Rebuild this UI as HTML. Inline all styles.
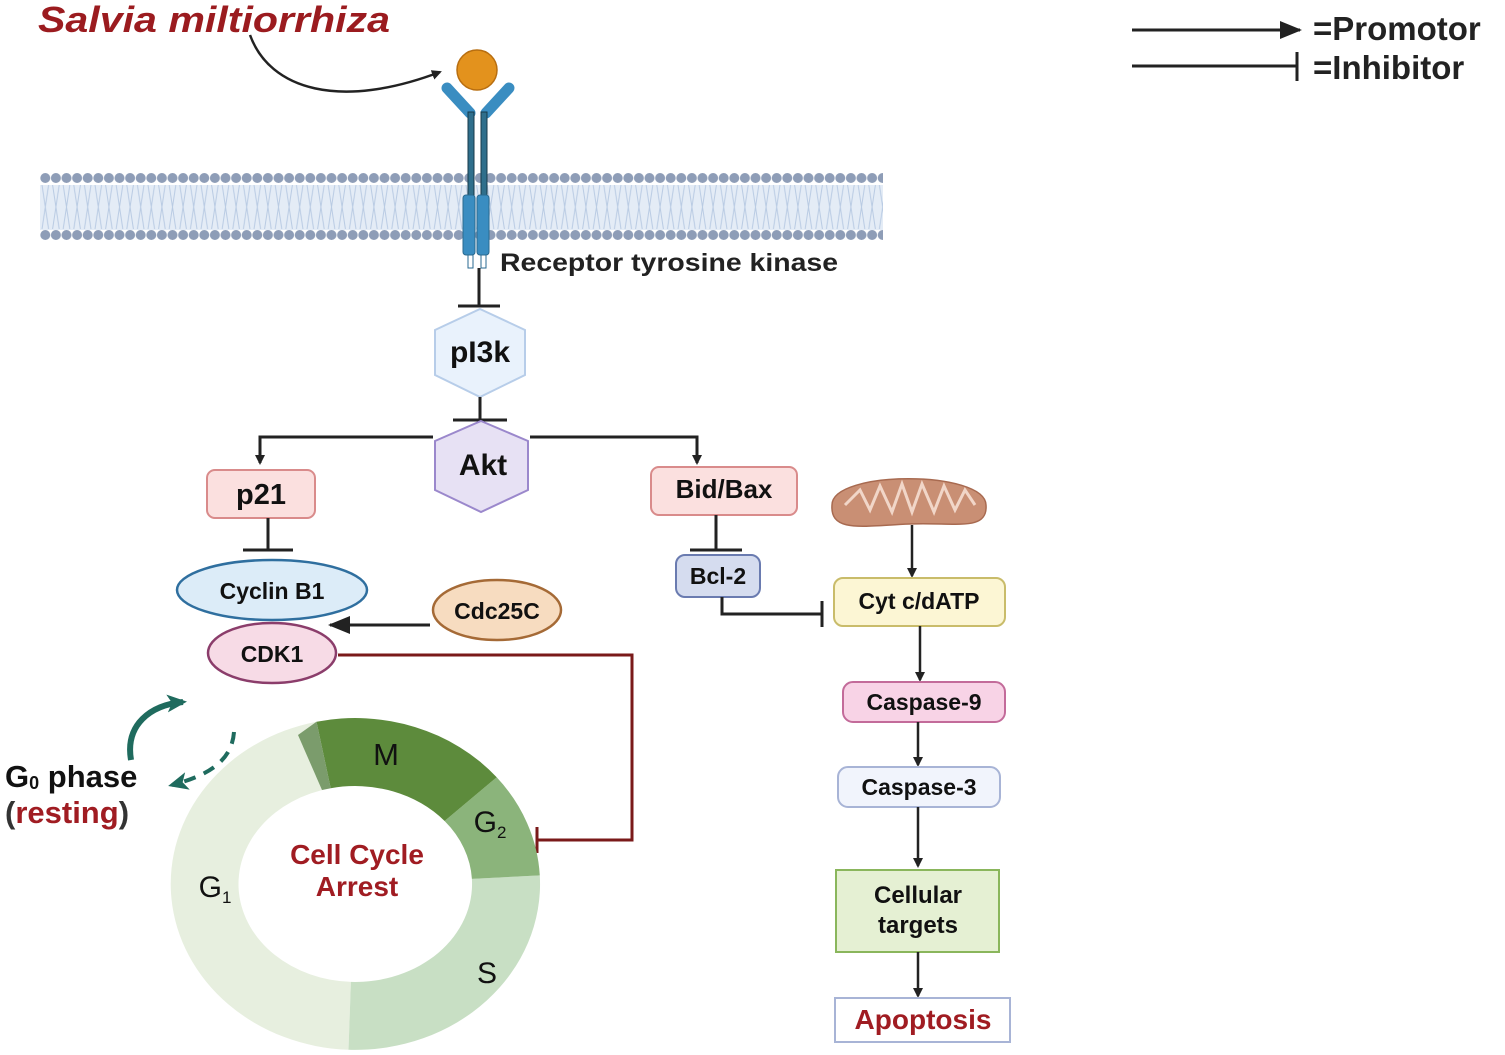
<!DOCTYPE html>
<html><head><meta charset="utf-8"><style>
html,body{margin:0;padding:0;background:#fff;}
svg{display:block;font-family:"Liberation Sans",sans-serif;}
.b{font-weight:bold;}
</style></head><body>
<svg width="1505" height="1055" viewBox="0 0 1505 1055" xmlns="http://www.w3.org/2000/svg">
<defs>
<marker id="ah" markerWidth="10" markerHeight="10" refX="8" refY="5" orient="auto" markerUnits="userSpaceOnUse"><path d="M0,0 L10,5 L0,10 Z" fill="#222"/></marker>
<marker id="ahB" markerWidth="22" markerHeight="18" refX="20" refY="9" orient="auto" markerUnits="userSpaceOnUse"><path d="M0,0 L22,9 L0,18 Z" fill="#222"/></marker>
<marker id="ahT" markerWidth="20" markerHeight="18" refX="16" refY="9" orient="auto" markerUnits="userSpaceOnUse"><path d="M0,0 L20,9 L0,18 L5,9 Z" fill="#1f6b5e"/></marker>
<pattern id="dots1" x="40" y="168" width="10.6" height="20" patternUnits="userSpaceOnUse"><circle cx="5.3" cy="10" r="5" fill="#8e9db7"/></pattern>
<pattern id="dots2" x="40" y="225" width="10.6" height="20" patternUnits="userSpaceOnUse"><circle cx="5.3" cy="10" r="5" fill="#8e9db7"/></pattern>
<pattern id="tails" x="40" y="185" width="10.6" height="22" patternUnits="userSpaceOnUse"><path d="M2,0 L5.3,22 L8.6,0" fill="none" stroke="#b9cbe3" stroke-width="1"/></pattern>
<pattern id="tails2" x="40" y="207" width="10.6" height="22" patternUnits="userSpaceOnUse"><path d="M2,22 L5.3,0 L8.6,22" fill="none" stroke="#b9cbe3" stroke-width="1"/></pattern>
</defs>

<!-- Legend -->
<line x1="1132" y1="30" x2="1300" y2="30" stroke="#222" stroke-width="3" marker-end="url(#ahB)"/>
<text x="1313" y="40" font-size="33" class="b" fill="#222">=Promotor</text>
<line x1="1132" y1="66" x2="1297" y2="66" stroke="#222" stroke-width="3"/>
<line x1="1297" y1="52" x2="1297" y2="81" stroke="#222" stroke-width="3"/>
<text x="1313" y="79" font-size="33" class="b" fill="#222">=Inhibitor</text>

<!-- Salvia -->
<text x="38" y="32" font-size="36" font-style="italic" class="b" fill="#9b1b1f" textLength="352" lengthAdjust="spacingAndGlyphs">Salvia miltiorrhiza</text>
<path d="M250,35 C270,90 340,110 440,72" fill="none" stroke="#222" stroke-width="2.5" marker-end="url(#ah)"/>

<!-- membrane -->
<rect x="40" y="185" width="843" height="45" fill="#e4ecf6"/>
<rect x="40" y="185" width="843" height="22" fill="url(#tails)"/>
<rect x="40" y="207" width="843" height="22" fill="url(#tails2)"/>
<rect x="40" y="168" width="843" height="20" fill="url(#dots1)"/>
<rect x="40" y="225" width="843" height="20" fill="url(#dots2)"/>

<!-- receptor -->
<circle cx="477" cy="70" r="20" fill="#e3921d" stroke="#b86e10" stroke-width="1.5"/>
<line x1="447" y1="88" x2="470" y2="113" stroke="#3a8dc1" stroke-width="11" stroke-linecap="round"/>
<line x1="509" y1="88" x2="486" y2="113" stroke="#3a8dc1" stroke-width="11" stroke-linecap="round"/>
<rect x="468" y="112" width="6" height="86" fill="#2f6f8c" stroke="#173a4a" stroke-width="1"/>
<rect x="481" y="112" width="6" height="86" fill="#2f6f8c" stroke="#173a4a" stroke-width="1"/>
<rect x="463" y="195" width="12" height="60" rx="3" fill="#3a8dc1" stroke="#2a6a90"/>
<rect x="477" y="195" width="12" height="60" rx="3" fill="#3a8dc1" stroke="#2a6a90"/>
<rect x="468" y="255" width="5" height="13" fill="#fff" stroke="#2a6a90"/>
<rect x="481" y="255" width="5" height="13" fill="#fff" stroke="#2a6a90"/>
<text x="500" y="271" font-size="25" fill="#222" class="b" textLength="338" lengthAdjust="spacingAndGlyphs">Receptor tyrosine kinase</text>

<!-- pI3k -->
<line x1="479" y1="268" x2="479" y2="306" stroke="#222" stroke-width="3"/>
<line x1="458" y1="306" x2="500" y2="306" stroke="#222" stroke-width="3"/>
<polygon points="480,309 525,330 525,375 480,397 435,375 435,330" fill="#e9f2fc" stroke="#b7cde9" stroke-width="2"/>
<text x="480" y="362" font-size="30" class="b" text-anchor="middle" fill="#111">pI3k</text>
<line x1="480" y1="397" x2="480" y2="420" stroke="#222" stroke-width="3"/>
<line x1="453" y1="420" x2="507" y2="420" stroke="#222" stroke-width="3"/>

<!-- Akt -->
<polygon points="481,421 528,441 528,490 481,512 435,490 435,441" fill="#e7e1f4" stroke="#9b88cc" stroke-width="2"/>
<text x="483" y="475" font-size="30" class="b" text-anchor="middle" fill="#111">Akt</text>
<path d="M433,437 L260,437 L260,463" fill="none" stroke="#222" stroke-width="3" marker-end="url(#ah)"/>
<path d="M530,437 L697,437 L697,463" fill="none" stroke="#222" stroke-width="3" marker-end="url(#ah)"/>

<!-- p21 -->
<rect x="207" y="470" width="108" height="48" rx="8" fill="#fbe0df" stroke="#d98b8b" stroke-width="2"/>
<text x="261" y="504" font-size="29" class="b" text-anchor="middle" fill="#111">p21</text>
<line x1="268" y1="518" x2="268" y2="550" stroke="#222" stroke-width="3"/>
<line x1="243" y1="550" x2="293" y2="550" stroke="#222" stroke-width="3"/>

<!-- Cyclin / CDK1 / Cdc25C -->
<ellipse cx="272" cy="590" rx="95" ry="30" fill="#dcecf8" stroke="#2f6f9f" stroke-width="2.5"/>
<text x="272" y="599" font-size="23" class="b" text-anchor="middle" fill="#111">Cyclin B1</text>
<ellipse cx="272" cy="653" rx="64" ry="30" fill="#f7dbe6" stroke="#8b3d6b" stroke-width="2.5"/>
<text x="272" y="662" font-size="23" class="b" text-anchor="middle" fill="#111">CDK1</text>
<ellipse cx="497" cy="610" rx="64" ry="30" fill="#f7dcc0" stroke="#a56a36" stroke-width="2.5"/>
<text x="497" y="619" font-size="23" class="b" text-anchor="middle" fill="#111">Cdc25C</text>
<line x1="430" y1="625" x2="330" y2="625" stroke="#222" stroke-width="3" marker-end="url(#ahB)"/>
<path d="M338,655 L632,655 L632,840 L537,840" fill="none" stroke="#7a1a1a" stroke-width="3"/>
<line x1="537" y1="827" x2="537" y2="853" stroke="#7a1a1a" stroke-width="3"/>

<!-- Bid/Bax, Bcl-2 -->
<rect x="651" y="467" width="146" height="48" rx="8" fill="#fbe0df" stroke="#d98b8b" stroke-width="2"/>
<text x="724" y="498" font-size="26" class="b" text-anchor="middle" fill="#111">Bid/Bax</text>
<line x1="716" y1="515" x2="716" y2="550" stroke="#222" stroke-width="3"/>
<line x1="690" y1="550" x2="742" y2="550" stroke="#222" stroke-width="3"/>
<rect x="676" y="555" width="84" height="42" rx="9" fill="#d5dcef" stroke="#6a7bb0" stroke-width="2"/>
<text x="718" y="584" font-size="23" class="b" text-anchor="middle" fill="#111">Bcl-2</text>
<path d="M722,597 L722,614 L822,614" fill="none" stroke="#222" stroke-width="3"/>
<line x1="822" y1="601" x2="822" y2="627" stroke="#222" stroke-width="3"/>

<!-- Mitochondrion -->
<path d="M832,505 C832,470 985,470 986,505 C988,532 955,522 909,524 C862,526 830,533 832,505 Z" fill="#c98f74" stroke="#a86a50" stroke-width="1.5"/>
<path d="M845,505 L860,490 L870,510 L880,486 L892,512 L902,484 L912,512 L922,484 L934,512 L944,486 L955,510 L965,490 L975,505" fill="none" stroke="#f1d6c8" stroke-width="3"/>
<line x1="912" y1="525" x2="912" y2="576" stroke="#222" stroke-width="2.5" marker-end="url(#ah)"/>

<!-- apoptosis chain -->
<rect x="834" y="578" width="171" height="48" rx="9" fill="#fcf6d4" stroke="#c9bc6a" stroke-width="2"/>
<text x="919" y="609" font-size="23" class="b" text-anchor="middle" fill="#111">Cyt c/dATP</text>
<line x1="920" y1="626" x2="920" y2="680" stroke="#222" stroke-width="2.5" marker-end="url(#ah)"/>
<rect x="843" y="682" width="162" height="40" rx="10" fill="#f8d3e6" stroke="#c36b9a" stroke-width="2"/>
<text x="924" y="710" font-size="23" class="b" text-anchor="middle" fill="#111">Caspase-9</text>
<line x1="918" y1="722" x2="918" y2="765" stroke="#222" stroke-width="2.5" marker-end="url(#ah)"/>
<rect x="838" y="767" width="162" height="40" rx="10" fill="#f1f4fc" stroke="#a8b4d6" stroke-width="2"/>
<text x="919" y="795" font-size="23" class="b" text-anchor="middle" fill="#111">Caspase-3</text>
<line x1="918" y1="807" x2="918" y2="866" stroke="#222" stroke-width="2.5" marker-end="url(#ah)"/>
<rect x="836" y="870" width="163" height="82" fill="#e5f0d3" stroke="#8ab65c" stroke-width="2"/>
<text x="918" y="903" font-size="24" class="b" text-anchor="middle" fill="#111">Cellular</text>
<text x="918" y="933" font-size="24" class="b" text-anchor="middle" fill="#111">targets</text>
<line x1="918" y1="952" x2="918" y2="996" stroke="#222" stroke-width="2.5" marker-end="url(#ah)"/>
<rect x="835" y="998" width="175" height="44" fill="#fff" stroke="#a8b4d6" stroke-width="2"/>
<text x="923" y="1029" font-size="28" class="b" text-anchor="middle" fill="#a01c22">Apoptosis</text>

<!-- Cell cycle ring -->
<path d="M348.5,1049.8 A185,166 0 0 1 316.5,721.7 L330.7,788.2 A117,98 0 0 0 350.9,981.9 Z" fill="#e7efdf"/>
<path d="M539.8,875.4 A185,166 0 0 1 348.5,1049.8 L350.9,981.9 A117,98 0 0 0 471.9,878.9 Z" fill="#c8dfc4"/>
<path d="M496.7,777.3 A185,166 0 0 1 539.8,875.4 L471.9,878.9 A117,98 0 0 0 444.6,821 Z" fill="#8bb47b"/>
<path d="M316.5,721.7 A185,166 0 0 1 496.7,777.3 L444.6,821 A117,98 0 0 0 330.7,788.2 Z" fill="#5d8b3c"/>
<path d="M298,735 L316.5,721.7 L330.7,788.2 L322,790 Z" fill="#7b9c6c"/>
<text x="386" y="765" font-size="31" text-anchor="middle" fill="#111">M</text>
<text x="490" y="832" font-size="30" text-anchor="middle" fill="#111">G<tspan font-size="17" dy="6">2</tspan></text>
<text x="215" y="897" font-size="30" text-anchor="middle" fill="#111">G<tspan font-size="17" dy="6">1</tspan></text>
<text x="487" y="983" font-size="30" text-anchor="middle" fill="#111">S</text>
<text x="357" y="864" font-size="28" class="b" text-anchor="middle" fill="#a01c22">Cell Cycle</text>
<text x="357" y="896" font-size="28" class="b" text-anchor="middle" fill="#a01c22">Arrest</text>

<!-- G0 -->
<path d="M131,760 C125,725 150,705 183,702" fill="none" stroke="#1f6b5e" stroke-width="6" marker-end="url(#ahT)"/>
<path d="M234,732 C232,760 210,775 172,785" fill="none" stroke="#1f6b5e" stroke-width="4" stroke-dasharray="12,9" marker-end="url(#ahT)"/>
<text x="5" y="787" font-size="31" fill="#111" style="font-weight:600">G<tspan font-size="18" dy="2">0</tspan><tspan dy="-2"> phase</tspan></text>
<text x="5" y="823" font-size="31" fill="#a01c22" style="font-weight:600"><tspan fill="#333">(</tspan>resting<tspan fill="#333">)</tspan></text>
</svg>
</body></html>
